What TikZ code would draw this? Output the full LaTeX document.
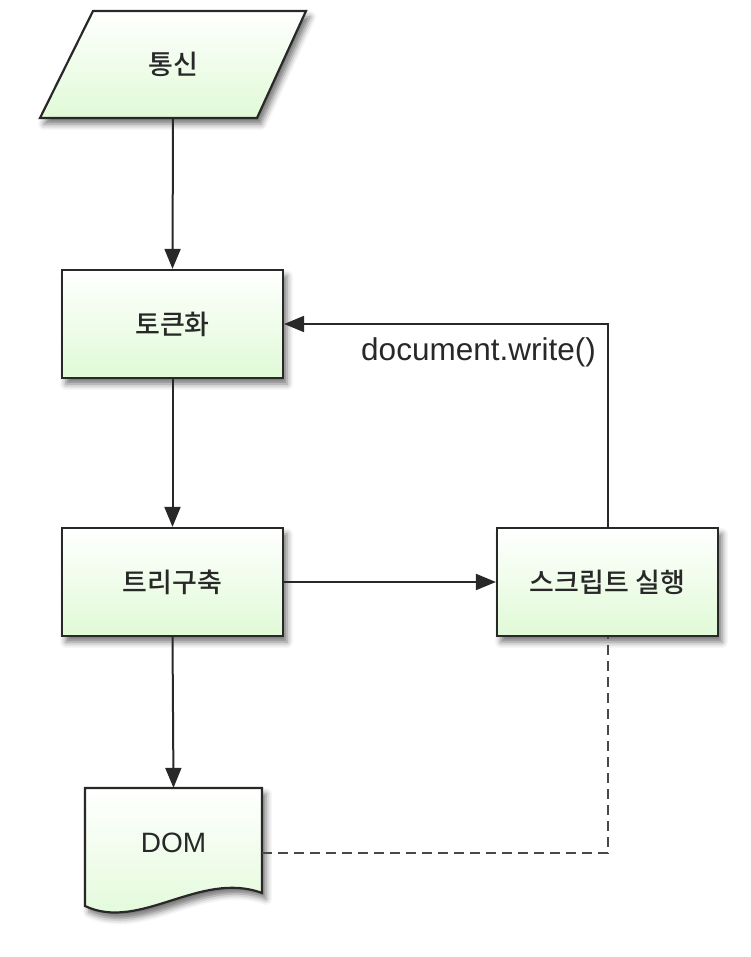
\documentclass[tikz,border=0pt]{standalone}
\usepackage{fontspec}
\setmainfont{Liberation Sans}
\newfontfamily\kr{Noto Sans CJK KR Medium}
\usetikzlibrary{arrows.meta,shadows.blur,calc}
\definecolor{lightgreen}{RGB}{224,250,214}
\definecolor{ink}{RGB}{40,40,40}
\begin{document}
\begin{tikzpicture}[x=1pt,y=-1pt,
  shape fill/.style={top color=white, bottom color=lightgreen, draw=ink, line width=2.2pt,
    blur shadow={shadow xshift=4pt, shadow yshift=-6pt, shadow blur radius=6pt, shadow opacity=55}},
  procbox/.style={shape fill, rectangle, minimum width=221pt, minimum height=108pt, inner sep=0pt,
    font=\kr\fontsize{27}{32}\selectfont, text=ink},
  label/.style={inner sep=0pt, text=ink},
  conn/.style={draw=ink, line width=2pt, -{Triangle[length=20pt,width=16pt]}},
  dashconn/.style={draw=ink!85, line width=2pt, dash pattern=on 10pt off 6pt}]
\useasboundingbox (0,0) rectangle (751,957);

% 통신 parallelogram
\path[shape fill] (93,11) -- (306,11) -- (257,118) -- (40,118) -- cycle;
\node[label, font=\kr\fontsize{27}{32}\selectfont, minimum width=160pt, minimum height=107pt] (comm) at (173,64.5) {통신};

% process boxes
\node[procbox] (tok) at (172.5,324) {토큰화};
\node[procbox] (tree) at (172.5,582) {트리구축};
\node[procbox] (script) at (607.5,582) {스크립트 실행};

% DOM document shape
\path[shape fill] (85,788) -- (262,788) -- (262,893)
  .. controls (200,870) and (140,932) .. (85,906) -- cycle;
\node[label, font=\fontsize{28}{32}\selectfont, minimum width=177pt, minimum height=110pt] (dom) at (173.5,843) {DOM};
\coordinate (domout) at (262,853);

% connectors
\draw[conn] (comm.south) -- (tok.north);
\draw[conn] (tok.south) -- (tree.north);
\draw[conn] (tree.east) -- (script.west);
\draw[conn] (tree.south) -- (dom.north);
\draw[conn] (script.north) |- (tok.east);
\node[label, anchor=east, font=\fontsize{31.5}{36}\selectfont] (dwlabel) at (596,352) {document.write()};
\draw[dashconn] (domout) -| (script.south);
\end{tikzpicture}
\end{document}
